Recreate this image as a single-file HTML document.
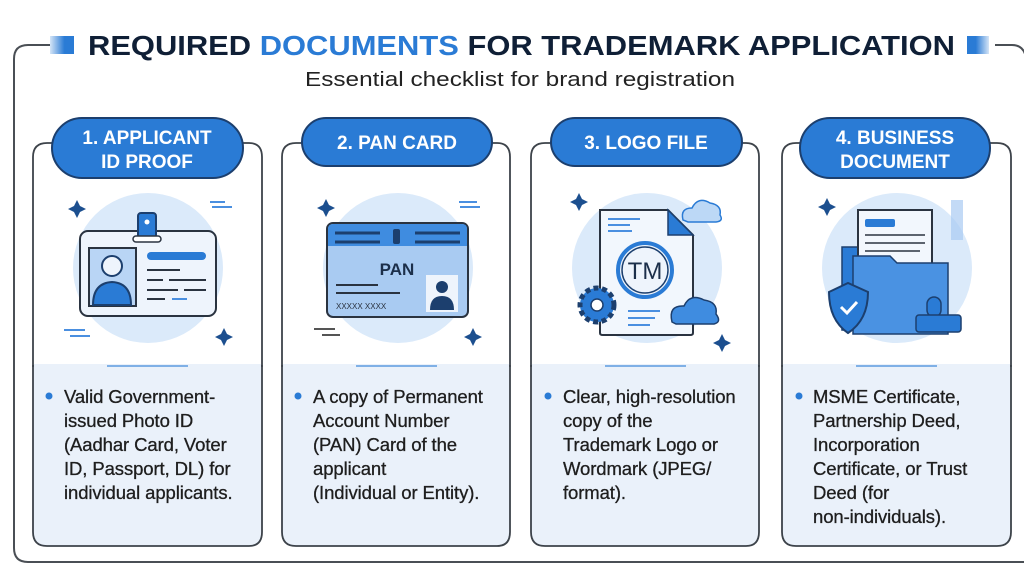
<!DOCTYPE html>
<html><head><meta charset="utf-8"><style>
html,body{margin:0;padding:0;background:#fff;}
svg{display:block;font-family:"Liberation Sans",sans-serif;}
</style></head><body>
<svg width="1024" height="585" viewBox="0 0 1024 585" xmlns="http://www.w3.org/2000/svg">
<defs>
<linearGradient id="sq" x1="0" x2="1"><stop offset="0" stop-color="#2a7bd5" stop-opacity="0.2"/><stop offset="0.6" stop-color="#2a7bd5"/></linearGradient>
<linearGradient id="sq2" x1="1" x2="0"><stop offset="0" stop-color="#2a7bd5" stop-opacity="0.2"/><stop offset="0.6" stop-color="#2a7bd5"/></linearGradient>
</defs>
<path d="M50 45 H28 Q14 45 14 59 V548 Q14 562 28 562 H1030" fill="none" stroke="#4a4f55" stroke-width="2"/>
<path d="M995 45 H1012 Q1024 45 1026 58" fill="none" stroke="#4a4f55" stroke-width="2"/>
<rect x="50" y="36" width="24" height="18" fill="url(#sq)"/>
<rect x="967" y="36" width="22" height="18" fill="url(#sq2)"/>
<text x="88" y="55" font-size="28" font-weight="bold" fill="#0f1f36" textLength="867" lengthAdjust="spacingAndGlyphs">REQUIRED <tspan fill="#2a7bd5">DOCUMENTS</tspan> FOR TRADEMARK APPLICATION</text>
<text x="305" y="86" font-size="20" fill="#222" textLength="430" lengthAdjust="spacingAndGlyphs">Essential checklist for brand registration</text>

<g stroke="#3d434a" stroke-width="1.8">
<path d="M33 366 V157 Q33 143 47 143 H249 Q262 143 262 157 V366Z" fill="#fff"/>
<path d="M33 366 V532 Q33 546 47 546 H249 Q262 546 262 532 V366Z" fill="#eaf1fa"/>
<path d="M282 366 V157 Q282 143 296 143 H497 Q510 143 510 157 V366Z" fill="#fff"/>
<path d="M282 366 V532 Q282 546 296 546 H497 Q510 546 510 532 V366Z" fill="#eaf1fa"/>
<path d="M531 366 V157 Q531 143 545 143 H746 Q759 143 759 157 V366Z" fill="#fff"/>
<path d="M531 366 V532 Q531 546 545 546 H746 Q759 546 759 532 V366Z" fill="#eaf1fa"/>
<path d="M782 366 V157 Q782 143 796 143 H997 Q1011 143 1011 157 V366Z" fill="#fff"/>
<path d="M782 366 V532 Q782 546 796 546 H997 Q1011 546 1011 532 V366Z" fill="#eaf1fa"/>
</g>
<g fill="#eaf1fa"><rect x="34" y="364" width="227" height="4"/><rect x="283" y="364" width="226" height="4"/><rect x="532" y="364" width="226" height="4"/><rect x="783" y="364" width="227" height="4"/></g>

<g fill="#2a7bd5" stroke="#1c3f6e" stroke-width="2">
<rect x="52" y="118" width="191" height="60" rx="30"/>
<rect x="302" y="118" width="190" height="48" rx="24"/>
<rect x="551" y="118" width="191" height="48" rx="24"/>
<rect x="800" y="118" width="190" height="60" rx="30"/>
</g>
<g fill="#fff" font-weight="bold" font-size="19" text-anchor="middle">
<text x="147" y="144">1. APPLICANT</text><text x="147" y="168">ID PROOF</text>
<text x="397" y="149">2. PAN CARD</text>
<text x="646" y="149">3. LOGO FILE</text>
<text x="895" y="144">4. BUSINESS</text><text x="895" y="168">DOCUMENT</text>
</g>

<g fill="#dbeafa"><circle cx="148" cy="268" r="75"/><circle cx="398" cy="268" r="75"/><circle cx="647" cy="268" r="75"/><circle cx="897" cy="268" r="75"/></g>
<g stroke="#7fb0e6" stroke-width="2"><line x1="107" y1="366" x2="188" y2="366"/><line x1="356" y1="366" x2="437" y2="366"/><line x1="605" y1="366" x2="686" y2="366"/><line x1="856" y1="366" x2="937" y2="366"/></g>

<g fill="#1c4f8f">
<path d="M77 200 l3 6 6 3 -6 3 -3 6 -3 -6 -6 -3 6 -3z"/>
<path d="M224 328 l3 6 6 3 -6 3 -3 6 -3 -6 -6 -3 6 -3z"/>
<path d="M326 199 l3 6 6 3 -6 3 -3 6 -3 -6 -6 -3 6 -3z"/>
<path d="M473 328 l3 6 6 3 -6 3 -3 6 -3 -6 -6 -3 6 -3z"/>
<path d="M579 193 l3 6 6 3 -6 3 -3 6 -3 -6 -6 -3 6 -3z"/>
<path d="M722 334 l3 6 6 3 -6 3 -3 6 -3 -6 -6 -3 6 -3z"/>
<path d="M827 198 l3 6 6 3 -6 3 -3 6 -3 -6 -6 -3 6 -3z"/>
</g>
<g stroke="#4a8fe0" stroke-width="2"><line x1="210" y1="202" x2="225" y2="202"/><line x1="212" y1="207" x2="232" y2="207"/><line x1="64" y1="330" x2="85" y2="330"/><line x1="70" y1="336" x2="90" y2="336"/><line x1="459" y1="202" x2="477" y2="202"/><line x1="460" y1="207" x2="480" y2="207"/></g>
<g stroke="#555" stroke-width="2"><line x1="314" y1="329" x2="335" y2="329"/><line x1="322" y1="335" x2="340" y2="335"/></g>

<rect x="80" y="231" width="136" height="85" rx="8" fill="#eef4fc" stroke="#2a3340" stroke-width="2"/>
<rect x="138" y="213" width="18" height="25" rx="3" fill="#2a7bd5" stroke="#1c3f6e" stroke-width="2"/>
<rect x="133" y="236" width="28" height="6" rx="3" fill="#fff" stroke="#2a3340" stroke-width="1.5"/>
<circle cx="147" cy="222" r="2.5" fill="#fff"/>
<rect x="89" y="248" width="47" height="58" fill="#b9d5f5" stroke="#2a3340" stroke-width="2"/>
<circle cx="112" cy="266" r="10" fill="#eef4fc" stroke="#1c3f6e" stroke-width="2"/>
<path d="M93 305 Q93 283 112 282 Q131 283 131 305Z" fill="#2a7bd5" stroke="#1c3f6e" stroke-width="2"/>
<rect x="147" y="252" width="59" height="8" rx="4" fill="#2a7bd5"/>
<g stroke="#2a3340" stroke-width="2"><line x1="147" y1="270" x2="180" y2="270"/><line x1="147" y1="280" x2="163" y2="280"/><line x1="169" y1="280" x2="206" y2="280"/><line x1="147" y1="290" x2="178" y2="290"/><line x1="184" y1="290" x2="206" y2="290"/><line x1="147" y1="299" x2="165" y2="299"/></g>
<line x1="172" y1="299" x2="187" y2="299" stroke="#4a8fe0" stroke-width="2"/>

<rect x="327" y="223" width="141" height="94" rx="6" fill="#a9cbf2" stroke="#2a3340" stroke-width="2"/>
<path d="M328 246 V229 Q328 224 333 224 H462 Q467 224 467 229 V246Z" fill="#3f8ce0"/>
<g stroke="#1c3f6e" stroke-width="3"><line x1="335" y1="233" x2="380" y2="233"/><line x1="335" y1="242" x2="380" y2="242"/><line x1="415" y1="233" x2="460" y2="233"/><line x1="415" y1="242" x2="460" y2="242"/></g>
<rect x="393" y="229" width="7" height="15" rx="2" fill="#1c3f6e"/>
<text x="397" y="275" font-size="17" font-weight="bold" fill="#1c2f4a" text-anchor="middle">PAN</text>
<g stroke="#2a3340" stroke-width="2"><line x1="336" y1="285" x2="378" y2="285"/><line x1="336" y1="293" x2="400" y2="293"/></g>
<text x="336" y="309" font-size="8" fill="#2a3340">XXXXX XXXX</text>
<rect x="426" y="275" width="32" height="37" fill="#eef4fc"/>
<circle cx="442" cy="287" r="6" fill="#1c3f6e"/><path d="M430 310 Q430 296 442 296 Q454 296 454 310Z" fill="#1c3f6e"/>

<path d="M600 210 H668 L693 235 V333 Q693 335 690 335 H603 Q600 335 600 333Z" fill="#f2f7fd" stroke="#2a3340" stroke-width="2"/>
<path d="M668 210 V235 H693Z" fill="#2a7bd5" stroke="#1c3f6e" stroke-width="1.5"/>
<g stroke="#4a8fe0" stroke-width="2"><line x1="608" y1="219" x2="640" y2="219"/><line x1="608" y1="225" x2="630" y2="225"/><line x1="608" y1="231" x2="632" y2="231"/><line x1="628" y1="311" x2="660" y2="311"/><line x1="628" y1="318" x2="655" y2="318"/><line x1="628" y1="325" x2="650" y2="325"/></g>
<circle cx="645" cy="270" r="27" fill="#eef4fc" stroke="#2a7bd5" stroke-width="4"/>
<circle cx="645" cy="270" r="23" fill="none" stroke="#1c3f6e" stroke-width="1.5"/>
<text x="645" y="279" font-size="24" fill="#1c2f4a" text-anchor="middle">TM</text>
<circle cx="597" cy="305" r="17" fill="#2a7bd5" stroke="#1c3f6e" stroke-width="5" stroke-dasharray="5 3.5"/>
<circle cx="597" cy="305" r="12" fill="#2a7bd5"/><circle cx="597" cy="305" r="6" fill="#fff" stroke="#1c3f6e" stroke-width="1.5"/>
<path d="M672 322 Q668 305 684 306 Q690 293 704 300 Q718 302 716 314 Q722 322 714 324 H676Z" fill="#3f8ce0" stroke="#1c3f6e" stroke-width="1.5"/>
<path d="M683 220 Q680 208 692 208 Q698 196 710 203 Q722 205 720 215 Q724 221 716 222 H688Z" fill="#bcd8f6" stroke="#2a7bd5" stroke-width="1.5"/>

<rect x="951" y="200" width="12" height="40" fill="#a9cbf2" opacity="0.7"/>
<path d="M842 247 H870 V243 H900 V330 H842Z" fill="#2a7bd5" stroke="#1c3f6e" stroke-width="1.5"/>
<rect x="858" y="210" width="74" height="70" fill="#f2f7fd" stroke="#2a3340" stroke-width="2"/>
<rect x="865" y="219" width="30" height="8" rx="2" fill="#2a7bd5"/>
<g stroke="#2a3340" stroke-width="1.5"><line x1="865" y1="235" x2="925" y2="235"/><line x1="865" y1="243" x2="925" y2="243"/><line x1="865" y1="251" x2="920" y2="251"/></g>
<path d="M853 256 H890 L897 263 H948 V334 H853Z" fill="#4a92e2" stroke="#1c3f6e" stroke-width="1.5"/>
<path d="M829 292 L848 283 L868 292 Q868 320 848 333 Q829 320 829 292Z" fill="#2a7bd5" stroke="#1c3f6e" stroke-width="2"/>
<path d="M841 307 l6 6 10 -11" stroke="#fff" stroke-width="3" fill="none"/>
<rect x="927" y="297" width="14" height="20" rx="7" fill="#2a7bd5" stroke="#1c3f6e" stroke-width="1.5"/>
<rect x="916" y="315" width="45" height="17" rx="3" fill="#2a7bd5" stroke="#1c3f6e" stroke-width="1.5"/>

<g fill="#2a7bd5"><circle cx="49" cy="396" r="3.5"/><circle cx="298" cy="396" r="3.5"/><circle cx="548" cy="396" r="3.5"/><circle cx="799" cy="396" r="3.5"/></g>
<g font-size="18.5" fill="#1e1e1e" stroke="#1e1e1e" stroke-width="0.3" letter-spacing="-0.1">
<text x="64" y="403">Valid Government-</text><text x="64" y="427">issued Photo ID</text><text x="64" y="451">(Aadhar Card, Voter</text><text x="64" y="475">ID, Passport, DL) for</text><text x="64" y="499">individual applicants.</text>
<text x="313" y="403">A copy of Permanent</text><text x="313" y="427">Account Number</text><text x="313" y="451">(PAN) Card of the</text><text x="313" y="475">applicant</text><text x="313" y="499">(Individual or Entity).</text>
<text x="563" y="403">Clear, high-resolution</text><text x="563" y="427">copy of the</text><text x="563" y="451">Trademark Logo or</text><text x="563" y="475">Wordmark (JPEG/</text><text x="563" y="499">format).</text>
<text x="813" y="403">MSME Certificate,</text><text x="813" y="427">Partnership Deed,</text><text x="813" y="451">Incorporation</text><text x="813" y="475">Certificate, or Trust</text><text x="813" y="499">Deed (for</text><text x="813" y="523">non-individuals).</text>
</g>
</svg>
</body></html>
